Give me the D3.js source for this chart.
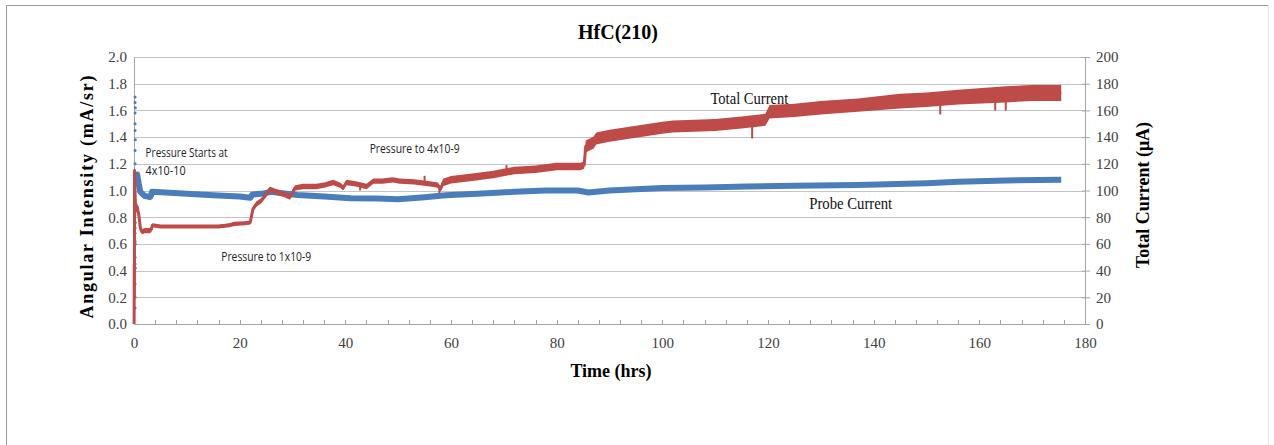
<!DOCTYPE html>
<html><head><meta charset="utf-8">
<script src="https://cdn.jsdelivr.net/npm/d3@7"></script>
<style>body{margin:0;background:#fff}svg{display:block}</style>
</head><body>
<svg id="c" width="1274" height="445"></svg>
<script>
// ---- data ----
const title = "HfC(210)";
const xTicks = [0, 20, 40, 60, 80, 100, 120, 140, 160, 180];
const leftTicks = [0, 0.2, 0.4, 0.6, 0.8, 1.0, 1.2, 1.4, 1.6, 1.8, 2.0];
const rightTicks = [0, 20, 40, 60, 80, 100, 120, 140, 160, 180, 200];

// Total current (µA, right axis): time (hrs), value, half band width
const totalTime = [0.02,0.05,0.08,0.1,0.2,0.3,0.6,0.9,1.2,1.5,2.0,3.0,3.3,3.5,5,8,12,16,18,19,21,22,22.5,23.2,24,24.8,25.7,27,28.5,29.5,30.5,32,34.5,36,37.7,39,39.6,40.2,42,44,45.3,47,49,50.3,53,56,57.5,58,58.5,60,64,68,72,76,80,84.5,85.2,85.5,87,87.5,90,95,100,102,110,115,119.5,120.3,125,130,137,145,150,156,165,170,175.5];
const totalValue = [0,45,20,115,100,85,88,82,72,69,70,70,71,74,73,73,73,73,74,75,75.5,76,86,90,92,96,101,99,97,95,102,103,103,104,106,104,102,106,105,103,107,107,108,107,106.5,105,104,101,106,108,110,112,115,116,118,118,119,133,136,139,141,144,147,148,149,151,153,159,160,162,164,167,168,170,172,173,173];
const totalSpread = [0,0,0,0,3,3,3,3,2,2,2,2,2,1.5,1.5,1.5,1.5,1.5,1.5,1.5,1.5,1.5,2,2,2,2,2,2,2,2,2,2,2,2,2,2,2,2,2,2,2,2,2,2,2,2,2,2,2.8,2.8,2.8,2.8,2.8,2.8,2.8,2.8,2.8,4.5,4.5,4.5,4.5,4.5,4.5,4.5,4.5,4.5,4.5,5,5,5,5,5.5,5.5,5.5,6,6,6];
// isolated noise spikes on the total current trace
const spikeTime = [42.8, 55, 57.8, 70.5, 117, 152.6, 163, 165];
const spikeFrom = [105, 106, 101, 114, 151, 169, 171, 171];
const spikeTo   = [100, 111, 98, 119, 139, 157, 160, 160];

// Probe current (mA/sr, left axis)
const probeTime = [0.3,0.6,0.9,1.2,2,3,3.2,3.4,6,10,15,20,22,22.4,24,26,28,31,36,41,46,50,55,59,65,72,78,84,86,90,95,100,108,116,125,137,150,156,165,175.5];
const probeValue = [1.08,1.12,1.05,0.99,0.96,0.95,0.96,0.99,0.985,0.975,0.965,0.955,0.945,0.97,0.975,0.99,0.98,0.966,0.955,0.942,0.94,0.935,0.95,0.965,0.975,0.99,1.0,1.0,0.985,1.0,1.01,1.018,1.022,1.03,1.035,1.041,1.055,1.066,1.075,1.08];
// scattered start-up probe readings near t = 0
const probeStartTime = [0.2,0.2,0.2,0.25,0.2,0.2,0.25,0.2,0.2,0.2,0.25,0.2,0.2,0.2,0.25,0.2,0.2,0.2,0.25,0.2,0.2];
const probeStartValue = [0.12,0.2,0.3,0.42,0.45,0.5,0.6,0.62,0.68,0.72,0.76,0.9,1.2,1.3,1.38,1.45,1.5,1.58,1.62,1.66,1.7];

const annotations = [
  {text:"Pressure Starts at", t:2.2, v:1.25, len:82},
  {text:"4x10-10", t:2.2, v:1.115, len:40},
  {text:"Pressure to 1x10-9", t:16.5, v:0.47, len:90},
  {text:"Pressure to 4x10-9", t:44.6, v:1.28, len:90}
];
const seriesLabels = [
  {text:"Total Current", t:109.1, v:1.65, len:78},
  {text:"Probe Current", t:127.8, v:0.86, len:83}
];

// ---- drawing ----
const svg = d3.select("#c");
const W = 1274, H = 445;
const x = d3.scaleLinear().domain([0,180]).range([134,1085]);
const yL = d3.scaleLinear().domain([0,2]).range([324,57]);
const yR = d3.scaleLinear().domain([0,200]).range([324,57]);
const serif = "'Liberation Serif','Times New Roman',serif";
const sans = "'Open Sans','Liberation Sans',sans-serif";

// frame
svg.append("line").attr("x1",6.5).attr("x2",6.5).attr("y1",5.5).attr("y2",H).attr("stroke","#9a9a9a");
svg.append("line").attr("x1",6.5).attr("x2",1268).attr("y1",5.5).attr("y2",5.5).attr("stroke","#9a9a9a");
svg.append("line").attr("x1",1268.5).attr("x2",1268.5).attr("y1",5.5).attr("y2",H).attr("stroke","#e6e6e6");

// gridlines
svg.append("g").selectAll("line").data(leftTicks.slice(1)).join("line")
  .attr("x1",x(0)).attr("x2",x(180))
  .attr("y1",d=>Math.round(yL(d))+0.5).attr("y2",d=>Math.round(yL(d))+0.5)
  .attr("stroke","#c4c4c4").attr("stroke-width",1);

// left axis
const gL = svg.append("g").attr("transform",`translate(${x(0)},0)`)
  .call(d3.axisLeft(yL).tickValues(leftTicks).tickFormat(d3.format(".1f")).tickSize(0).tickPadding(7));
gL.select(".domain").attr("stroke","#a6a6a6");
gL.selectAll("text").attr("font-family",serif).attr("font-size",15).attr("fill","#404040");

// right axis
const gR = svg.append("g").attr("transform",`translate(${x(180)},0)`)
  .call(d3.axisRight(yR).tickValues(rightTicks).tickSize(5).tickPadding(6));
gR.select(".domain").attr("stroke","#a6a6a6");
gR.selectAll(".tick line").attr("stroke","#a6a6a6").attr("x1",-3);
gR.selectAll("text").attr("font-family",serif).attr("font-size",15).attr("fill","#404040");

// bottom axis
const gB = svg.append("g").attr("transform",`translate(0,${yL(0)})`)
  .call(d3.axisBottom(x).tickValues(xTicks).tickSize(0).tickPadding(13));
gB.select(".domain").attr("stroke","#a6a6a6");
gB.selectAll("text").attr("font-family",serif).attr("font-size",15).attr("fill","#404040");
svg.append("g").selectAll("line").data(d3.range(4,180,4)).join("line")
  .attr("x1",d=>Math.round(x(d))+0.5).attr("x2",d=>Math.round(x(d))+0.5)
  .attr("y1",yL(0)-4).attr("y2",yL(0)+1).attr("stroke","#a6a6a6");

// probe current (blue)
const blue = "#4a7ebb", red = "#be4b48";
const probeData = probeTime.map((t,i)=>({t, v:probeValue[i]}));
svg.append("path").datum(probeData)
  .attr("d", d3.line().x(d=>x(d.t)).y(d=>yL(d.v)))
  .attr("fill","none").attr("stroke",blue).attr("stroke-width",6).attr("stroke-linejoin","round");
svg.append("g").selectAll("circle").data(probeStartTime.map((t,i)=>({t, v:probeStartValue[i]}))).join("circle")
  .attr("cx",d=>x(d.t)).attr("cy",d=>yL(d.v)).attr("r",1.5).attr("fill",blue);

// total current (red)
const totalData = totalTime.map((t,i)=>({t, v:totalValue[i], s:totalSpread[i]}));
svg.append("path").datum(totalData)
  .attr("d", d3.area().x(d=>x(d.t)).y0(d=>yR(d.v-d.s)).y1(d=>yR(d.v+d.s)))
  .attr("fill",red);
svg.append("path").datum(totalData)
  .attr("d", d3.line().x(d=>x(d.t)).y(d=>yR(d.v)))
  .attr("fill","none").attr("stroke",red).attr("stroke-width",3).attr("stroke-linejoin","round");
svg.append("g").selectAll("line").data(spikeTime.map((t,i)=>({t, a:spikeFrom[i], b:spikeTo[i]}))).join("line")
  .attr("x1",d=>x(d.t)).attr("x2",d=>x(d.t)).attr("y1",d=>yR(d.a)).attr("y2",d=>yR(d.b))
  .attr("stroke",red).attr("stroke-width",2);

// annotations
svg.append("g").selectAll("text").data(annotations).join("text")
  .attr("x",d=>x(d.t)).attr("y",d=>yL(d.v))
  .attr("font-family",sans).attr("font-size",12).attr("fill","#222")
  .attr("textLength",d=>d.len).attr("lengthAdjust","spacingAndGlyphs")
  .text(d=>d.text);
svg.append("g").selectAll("text").data(seriesLabels).join("text")
  .attr("x",d=>x(d.t)).attr("y",d=>yL(d.v))
  .attr("font-family",serif).attr("font-size",16).attr("fill","#111")
  .attr("textLength",d=>d.len).attr("lengthAdjust","spacingAndGlyphs")
  .text(d=>d.text);

// titles
svg.append("text").attr("x",618).attr("y",39).attr("text-anchor","middle")
  .attr("font-family",serif).attr("font-weight","bold").attr("font-size",20).text(title);
svg.append("text").attr("x",611).attr("y",377).attr("text-anchor","middle")
  .attr("font-family",serif).attr("font-weight","bold").attr("font-size",18).text("Time (hrs)");
svg.append("text").attr("transform","translate(93,197) rotate(-90)").attr("text-anchor","middle")
  .attr("font-family",serif).attr("font-weight","bold").attr("font-size",18)
  .attr("textLength",243).attr("lengthAdjust","spacing").text("Angular Intensity (mA/sr)");
svg.append("text").attr("transform","translate(1149,195) rotate(-90)").attr("text-anchor","middle")
  .attr("font-family",serif).attr("font-weight","bold").attr("font-size",18)
  .text("Total Current (\u03bcA)");
</script>
</body></html>
